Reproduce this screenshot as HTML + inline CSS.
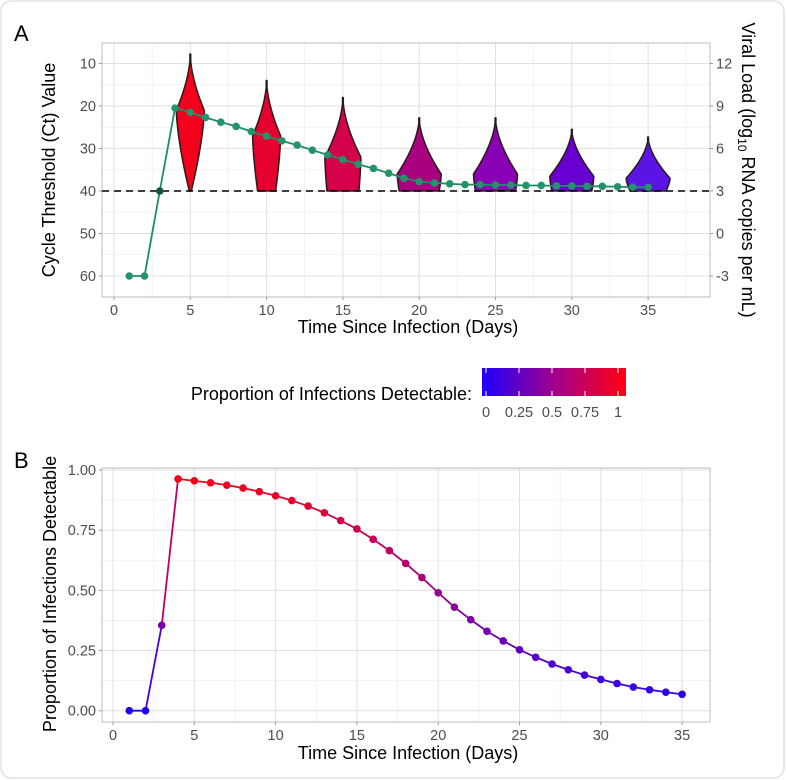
<!DOCTYPE html>
<html><head><meta charset="utf-8"><style>
html,body{margin:0;padding:0;background:#fff;}
svg{display:block;font-family:"Liberation Sans",Arial,sans-serif;}
</style></head><body>
<svg id="s" width="786" height="780" viewBox="0 0 786 780" xmlns="http://www.w3.org/2000/svg">
<defs>
<linearGradient id="g" x1="0" x2="1" y1="0" y2="0">
<stop offset="0" stop-color="#1e00ff"/><stop offset="0.5" stop-color="#a0008c"/><stop offset="1" stop-color="#ff0010"/>
</linearGradient>
</defs>
<rect x="1" y="1" width="783" height="777" rx="10" fill="#fff" stroke="#e2e2e2" stroke-width="1.5"/>
<g id="A"></g><g id="B"></g>
</svg>
<script>
const NS="http://www.w3.org/2000/svg";
function el(p,t,a,txt){const e=document.createElementNS(NS,t);for(const k in a)e.setAttribute(k,a[k]);if(txt!==undefined)e.textContent=txt;p.appendChild(e);return e;}
function col(v){const a=[30,0,255],m=[160,0,140],b=[255,0,16];let c;if(v<0.5){const t=v/0.5;c=a.map((x,i)=>x+(m[i]-x)*t);}else{const t=(v-0.5)/0.5;c=m.map((x,i)=>x+(b[i]-x)*t);}return `rgb(${c.map(Math.round).join(',')})`;}
const A=document.getElementById('A'),B=document.getElementById('B');
const TF=14.5, AF=18;
// Panel A
const ax0=102,ax1=710,ay0=43,ay1=297;
const X=d=>114+d*15.26, Y=c=>63.5+(c-10)*4.25;
el(A,'text',{x:14,y:41,'font-size':22,fill:'#000'},'A');
for(let d=2.5;d<=37.5;d+=5)el(A,'line',{x1:X(d),x2:X(d),y1:ay0,y2:ay1,stroke:'#efefef','stroke-width':0.8});
for(let c=15;c<=65;c+=10)el(A,'line',{x1:ax0,x2:ax1,y1:Y(c),y2:Y(c),stroke:'#efefef','stroke-width':0.8});
for(let d=0;d<=35;d+=5)el(A,'line',{x1:X(d),x2:X(d),y1:ay0,y2:ay1,stroke:'#e0e0e0','stroke-width':1});
for(let c=10;c<=60;c+=10)el(A,'line',{x1:ax0,x2:ax1,y1:Y(c),y2:Y(c),stroke:'#e0e0e0','stroke-width':1});
el(A,'rect',{x:ax0,y:ay0,width:ax1-ax0,height:ay1-ay0,fill:'none',stroke:'#bdbdbd','stroke-width':1});
for(let d=0;d<=35;d+=5){el(A,'line',{x1:X(d),x2:X(d),y1:ay1,y2:ay1+3,stroke:'#999'});el(A,'text',{x:X(d),y:ay1+18,'font-size':TF,fill:'#4d4d4d','text-anchor':'middle'},d);}
for(let c=10;c<=60;c+=10){el(A,'line',{x1:ax0-3,x2:ax0,y1:Y(c),y2:Y(c),stroke:'#999'});el(A,'text',{x:ax0-6,y:Y(c)+5,'font-size':TF,fill:'#4d4d4d','text-anchor':'end'},c);}
[12,9,6,3,0,-3].forEach((v,i)=>{const y=Y(10+i*10);el(A,'line',{x1:ax1,x2:ax1+3,y1:y,y2:y,stroke:'#999'});el(A,'text',{x:ax1+6,y:y+5,'font-size':TF,fill:'#4d4d4d'},v);});
el(A,'text',{x:408,y:333,'font-size':AF,fill:'#000','text-anchor':'middle'},'Time Since Infection (Days)');
el(A,'text',{transform:'translate(55,170) rotate(-90)','font-size':AF,fill:'#000','text-anchor':'middle'},'Cycle Threshold (Ct) Value');
const t=el(A,'text',{transform:'translate(742,170) rotate(90)','font-size':AF,fill:'#000','text-anchor':'middle'});
t.innerHTML='Viral Load (log<tspan font-size="12" dy="4">10</tspan><tspan dy="-4"> RNA copies per mL)</tspan>';
const V=[[5,7.8,21,14,1,'#f2001c'],[10,14,27,14,9,'#e50030'],[15,18,32,18,16,'#d5004c'],[20,22.8,36,22,20,'#a8007e'],[25,22.8,36,22,20,'#8a00b4'],[30,25.5,36.5,22,20,'#6800d2'],[35,27.3,37,22,18,'#5a14e4']];
V.forEach(([d,tp,wc,hw,bw,c])=>{
  const cx=X(d),pts=[];
  for(let i=0;i<=60;i++){const ct=tp+(40-tp)*i/60;let w;
    if(ct<=wc){const f=(ct-tp)/(wc-tp);w=hw*Math.pow(f,1.7);w=Math.max(w,0.4);}
    else{const f=(ct-wc)/(40-wc);w=hw+(bw-hw)*Math.pow(f,1.5);}
    pts.push([w,Y(ct)]);}
  let dd=`M${cx},${Y(tp)}`;pts.forEach(p=>dd+=` L${cx+p[0]},${p[1]}`);
  for(let i=pts.length-1;i>=0;i--)dd+=` L${cx-pts[i][0]},${pts[i][1]}`;dd+='Z';
  el(A,'path',{d:dd,fill:c,stroke:'#2a1a1a','stroke-width':1.5,'stroke-linejoin':'round'});
});
el(A,'line',{x1:ax0,x2:ax1,y1:Y(40),y2:Y(40),stroke:'#000','stroke-width':1.6,'stroke-dasharray':'7,5'});
const ct=[60,60,40,20.5,21.5,22.7,23.8,24.8,26,27.1,28.2,29.2,30.4,31.5,32.6,33.7,34.7,35.8,37,37.8,38.1,38.3,38.5,38.5,38.6,38.6,38.7,38.7,38.8,38.8,38.9,38.9,39,39.1,39.1];
el(A,'polyline',{points:ct.map((c,i)=>X(i+1)+','+Y(c)).join(' '),fill:'none',stroke:'#1f8c66','stroke-width':1.8});
ct.forEach((c,i)=>el(A,'circle',{cx:X(i+1),cy:Y(c),r:3.8,fill:i==2?'#14553c':'#24936a'}));
el(A,'text',{x:472,y:400,'font-size':AF,fill:'#000','text-anchor':'end'},'Proportion of Infections Detectable:');
el(A,'rect',{x:482,y:368,width:144,height:28,fill:'url(#g)'});
[[486,'0'],[519,'0.25'],[552,'0.5'],[585,'0.75'],[618,'1']].forEach(([x,l])=>{el(A,'line',{x1:x,x2:x,y1:368,y2:373,stroke:'#fff'});el(A,'line',{x1:x,x2:x,y1:391,y2:396,stroke:'#fff'});el(A,'text',{x:x,y:417,'font-size':TF,fill:'#4d4d4d','text-anchor':'middle'},l);});
// Panel B
const bx0=102,bx1=710,by0=468,by1=722;
const XB=d=>113+d*16.26, YB=v=>710.7-v*240.7;
el(B,'text',{x:14,y:468,'font-size':22,fill:'#000'},'B');
for(let d=2.5;d<=35;d+=5)el(B,'line',{x1:XB(d),x2:XB(d),y1:by0,y2:by1,stroke:'#efefef','stroke-width':0.8});
for(let v=0.125;v<1;v+=0.25)el(B,'line',{x1:bx0,x2:bx1,y1:YB(v),y2:YB(v),stroke:'#efefef','stroke-width':0.8});
for(let d=0;d<=35;d+=5)el(B,'line',{x1:XB(d),x2:XB(d),y1:by0,y2:by1,stroke:'#e0e0e0'});
for(let v=0;v<=1;v+=0.25)el(B,'line',{x1:bx0,x2:bx1,y1:YB(v),y2:YB(v),stroke:'#e0e0e0'});
el(B,'rect',{x:bx0,y:by0,width:bx1-bx0,height:by1-by0,fill:'none',stroke:'#bdbdbd'});
for(let d=0;d<=35;d+=5){el(B,'line',{x1:XB(d),x2:XB(d),y1:by1,y2:by1+3,stroke:'#999'});el(B,'text',{x:XB(d),y:by1+18,'font-size':TF,fill:'#4d4d4d','text-anchor':'middle'},d);}
['0.00','0.25','0.50','0.75','1.00'].forEach((l,i)=>{const y=YB(i*0.25);el(B,'line',{x1:bx0-3,x2:bx0,y1:y,y2:y,stroke:'#999'});el(B,'text',{x:bx0-6,y:y+5,'font-size':TF,fill:'#4d4d4d','text-anchor':'end'},l);});
el(B,'text',{x:408,y:759,'font-size':AF,fill:'#000','text-anchor':'middle'},'Time Since Infection (Days)');
el(B,'text',{transform:'translate(56,594) rotate(-90)','font-size':AF,fill:'#000','text-anchor':'middle'},'Proportion of Infections Detectable');
const pv=[0,0,0.355,0.963,0.955,0.947,0.937,0.925,0.91,0.893,0.873,0.85,0.822,0.79,0.755,0.712,0.665,0.612,0.553,0.49,0.43,0.378,0.33,0.29,0.253,0.222,0.194,0.17,0.148,0.13,0.113,0.098,0.087,0.077,0.068];
for(let i=0;i<pv.length-1;i++)el(B,'line',{x1:XB(i+1),y1:YB(pv[i]),x2:XB(i+2),y2:YB(pv[i+1]),stroke:col((pv[i]+pv[i+1])/2),'stroke-width':1.8});
pv.forEach((v,i)=>el(B,'circle',{cx:XB(i+1),cy:YB(v),r:3.8,fill:col(v)}));
</script>
</body></html>
